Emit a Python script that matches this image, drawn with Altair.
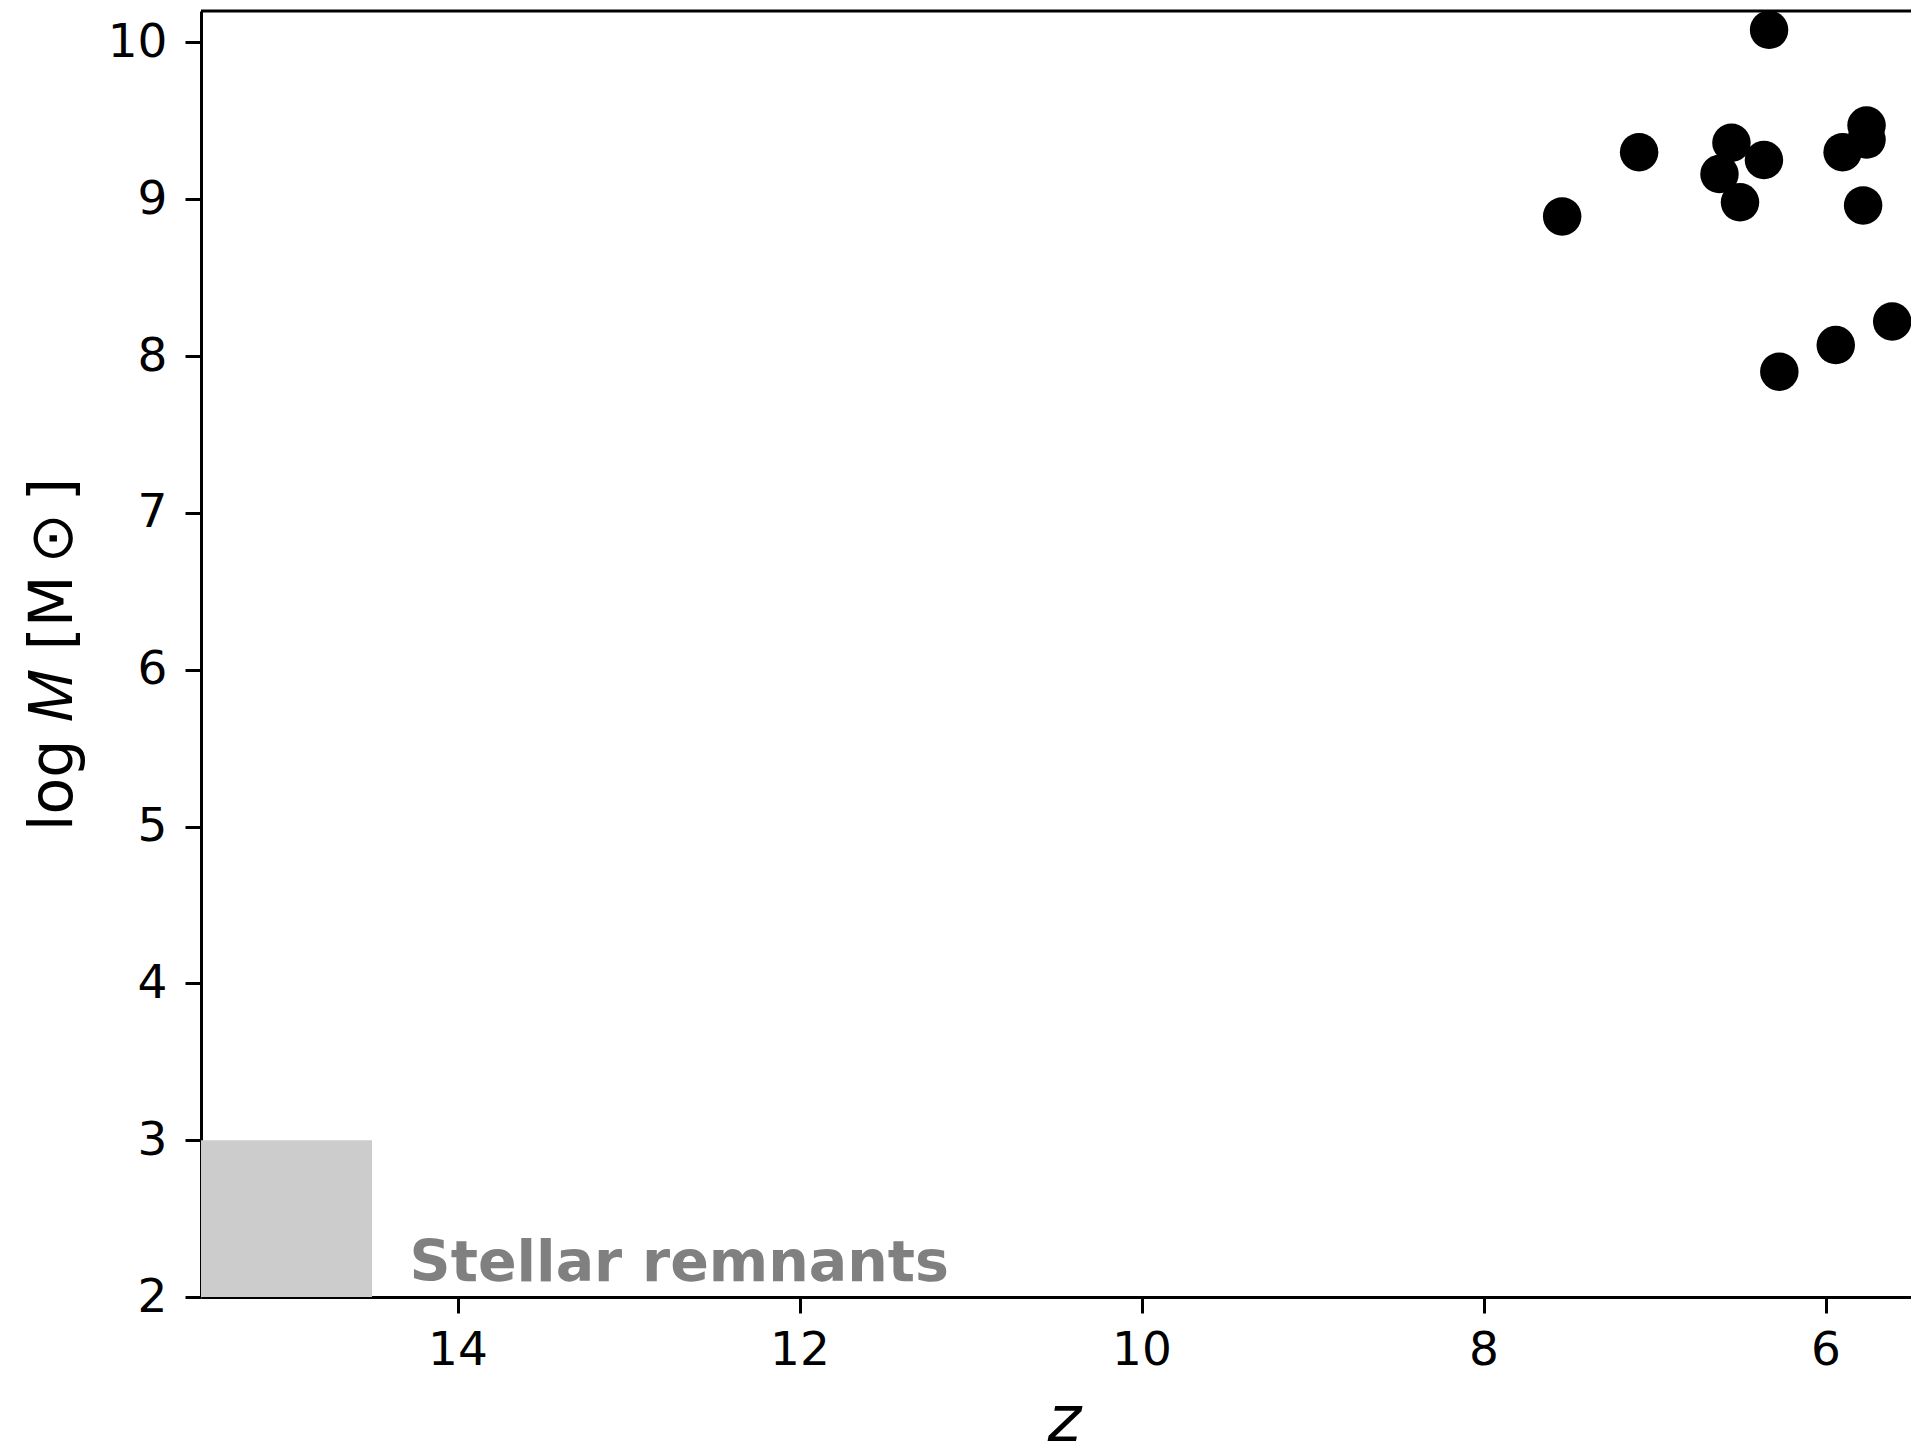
import altair as alt
import pandas as pd

# Data
z_vals = [6.33, 7.09, 7.54, 6.55, 6.62, 6.36, 6.50, 5.76, 5.76, 5.90, 5.78, 6.27, 5.94, 5.61]
logm_vals = [10.08, 9.30, 8.89, 9.36, 9.16, 9.25, 8.98, 9.47, 9.38, 9.30, 8.96, 7.90, 8.07, 8.22]

region_z = [15.5, 14.5]
region_logm = [2.0, 3.0]
region_label = "Stellar remnants"
label_z = 14.28
label_logm = 2.1

x_ticks = [14, 12, 10, 8, 6]
y_ticks = [2, 3, 4, 5, 6, 7, 8, 9, 10]

W, H = 1710, 1286
FONT = "DejaVu Sans"

points = pd.DataFrame({"z": z_vals, "logM": logm_vals})
region = pd.DataFrame({"z": [region_z[0]], "z2": [region_z[1]],
                       "m": [region_logm[0]], "m2": [region_logm[1]]})
label = pd.DataFrame({"z": [label_z], "logM": [label_logm], "t": [region_label]})

xscale = alt.Scale(domain=[5.5, 15.5], reverse=True, nice=False, zero=False)
yscale = alt.Scale(domain=[2, 10.2], nice=False, zero=False)

xaxis = alt.Axis(values=x_ticks, format="d", title="z", titleFontStyle="italic", titleFont=FONT,
                 titleFontSize=64, titleFontWeight="normal", titleColor="black",
                 titleX=863, titleY=143, titleBaseline="alphabetic", titleAlign="center",
                 labelFont=FONT, labelFontSize=47, labelColor="black", labelPadding=14,
                 tickSize=16, tickWidth=3, tickColor="black",
                 domainColor="black", domainWidth=3, grid=False, labelFlush=False)
yaxis = alt.Axis(values=y_ticks, format="d", title="log 𝑀 [M\u2009⊙\u2009]", titleFont=FONT,
                 titleFontSize=60, titleFontWeight="normal", titleColor="black",
                 titleX=-148, titleY=H / 2, titleBaseline="middle", titleAngle=270,
                 titleAlign="center",
                 labelFont=FONT, labelFontSize=47, labelColor="black", labelPadding=18,
                 tickSize=16, tickWidth=3, tickColor="black",
                 domainColor="black", domainWidth=3, grid=False, labelFlush=False)

rect = alt.Chart(region).mark_rect(color="#cccccc").encode(
    x=alt.X("z:Q", scale=xscale, axis=xaxis),
    x2="z2:Q",
    y=alt.Y("m:Q", scale=yscale, axis=yaxis),
    y2="m2:Q",
)

text = alt.Chart(label).mark_text(
    align="left", baseline="alphabetic", font=FONT, fontSize=57,
    fontWeight="bold", color="#808080"
).encode(
    x=alt.X("z:Q", scale=xscale),
    y=alt.Y("logM:Q", scale=yscale),
    text="t:N",
)

dots = alt.Chart(points).mark_circle(size=1480, color="black", opacity=1).encode(
    x=alt.X("z:Q", scale=xscale),
    y=alt.Y("logM:Q", scale=yscale),
)

top = alt.Chart(label).mark_rule(color="black", strokeWidth=3).encode(
    x=alt.value(0), x2=alt.value(W), y=alt.value(0)
)

chart = alt.layer(rect, text, dots, top).properties(
    width=W, height=H,
    autosize=alt.AutoSizeParams(type="none"),
    padding={"left": 201, "top": 11, "right": 0, "bottom": 150},
    background="white",
).configure_view(stroke=None)

chart.save("out.html", embed_options={"renderer": "svg", "actions": False})
